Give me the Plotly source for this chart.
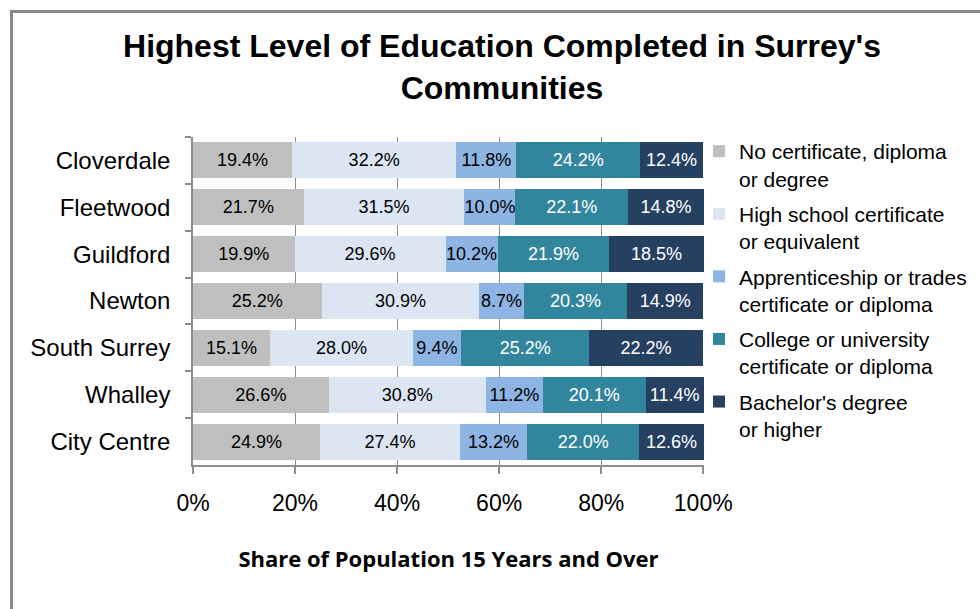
import plotly.graph_objects as go

communities = ["Cloverdale", "Fleetwood", "Guildford", "Newton", "South Surrey", "Whalley", "City Centre"]
series_names = [
    "No certificate, diploma<br>or degree",
    "High school certificate<br>or equivalent",
    "Apprenticeship or trades<br>certificate or diploma",
    "College or university<br>certificate or diploma",
    "Bachelor's degree<br>or higher",
]
no_cert = [19.4, 21.7, 19.9, 25.2, 15.1, 26.6, 24.9]
high_school = [32.2, 31.5, 29.6, 30.9, 28.0, 30.8, 27.4]
apprentice = [11.8, 10.0, 10.2, 8.7, 9.4, 11.2, 13.2]
college = [24.2, 22.1, 21.9, 20.3, 25.2, 20.1, 22.0]
bachelor = [12.4, 14.8, 18.5, 14.9, 22.2, 11.4, 12.6]
series_values = [no_cert, high_school, apprentice, college, bachelor]
colors = ["#BFBFBF", "#DCE6F2", "#8EB4E3", "#31859C", "#254061"]
text_colors = ["#000000", "#000000", "#000000", "#FFFFFF", "#FFFFFF"]
x_tickvals = [0, 20, 40, 60, 80, 100]
x_ticktext = ["0%", "20%", "40%", "60%", "80%", "100%"]

W, H = 980, 609
L, R, T, B = 193, 704, 137, 465

fig = go.Figure()
for i, (name, vals) in enumerate(zip(series_names, series_values)):
    fig.add_trace(go.Bar(
        y=communities, x=vals, name=name, orientation="h",
        marker=dict(color=colors[i], line=dict(width=0)),
        text=[f"{v:.1f}%" for v in vals], textposition="inside",
        insidetextanchor="middle", constraintext="none",
        textfont=dict(family="Liberation Sans, Arial", size=18, color=text_colors[i]),
        legendgroup=f"g{i}", hoverinfo="skip", cliponaxis=False,
    ))


def px_x(p):
    return (p - L) / (R - L)


def px_y(p):
    return (B - p) / (B - T)


fig.update_layout(
    width=W, height=H,
    barmode="stack", bargap=0.23,
    paper_bgcolor="white", plot_bgcolor="white",
    margin=dict(l=L, r=W - R, t=T, b=H - B, autoexpand=False),
    font=dict(family="Liberation Sans, Arial", color="#000000"),
    title=dict(
        text="Highest Level of Education Completed in Surrey's<br>Communities",
        font=dict(family="Liberation Sans, Arial", size=32, color="#000000", weight="bold"),
        x=502 / W, xref="container", xanchor="center",
        y=1 - 57 / H, yref="container", yanchor="top",
    ),
    legend=dict(
        x=px_x(699), xanchor="left", y=px_y(131), yanchor="top",
        font=dict(size=21, family="Liberation Sans, Arial", color="#000000"),
        valign="top", tracegroupgap=5, traceorder="grouped", itemwidth=30,
        bgcolor="rgba(0,0,0,0)", maxheight=600,
    ),
    xaxis=dict(
        range=[0, 100.15], tickvals=x_tickvals, ticktext=x_ticktext,
        showgrid=True, gridcolor="#8C8C8C", gridwidth=1,
        showline=True, linecolor="#8C8C8C", linewidth=1.5,
        ticks="outside", ticklen=7, tickcolor="#8C8C8C", tickwidth=1.5,
        tickfont=dict(size=23, family="Liberation Sans, Arial"),
        ticklabelstandoff=10,
        zeroline=False, fixedrange=True,
        title=dict(text="<b>Share of Population 15 Years and Over</b>",
                   font=dict(size=22, family="Open Sans, Noto Sans"), standoff=36),
    ),
    yaxis=dict(
        categoryorder="array", categoryarray=communities, autorange="reversed",
        showline=True, linecolor="#8C8C8C", linewidth=1.5,
        ticks="outside", ticklen=6, tickcolor="#8C8C8C", tickwidth=1.5,
        tickson="boundaries", showgrid=False,
        tickfont=dict(size=24, family="Liberation Sans, Arial"),
        ticklabelstandoff=16, fixedrange=True,
    ),
    shapes=[
        dict(type="line", xref="paper", yref="paper",
             x0=px_x(10), x1=px_x(W + 20), y0=px_y(11.5), y1=px_y(11.5),
             line=dict(color="#888888", width=3), layer="above"),
        dict(type="line", xref="paper", yref="paper",
             x0=px_x(11.5), x1=px_x(11.5), y0=px_y(10), y1=px_y(H + 20),
             line=dict(color="#888888", width=3), layer="above"),
    ],
)

fig.write_html("out.html")
